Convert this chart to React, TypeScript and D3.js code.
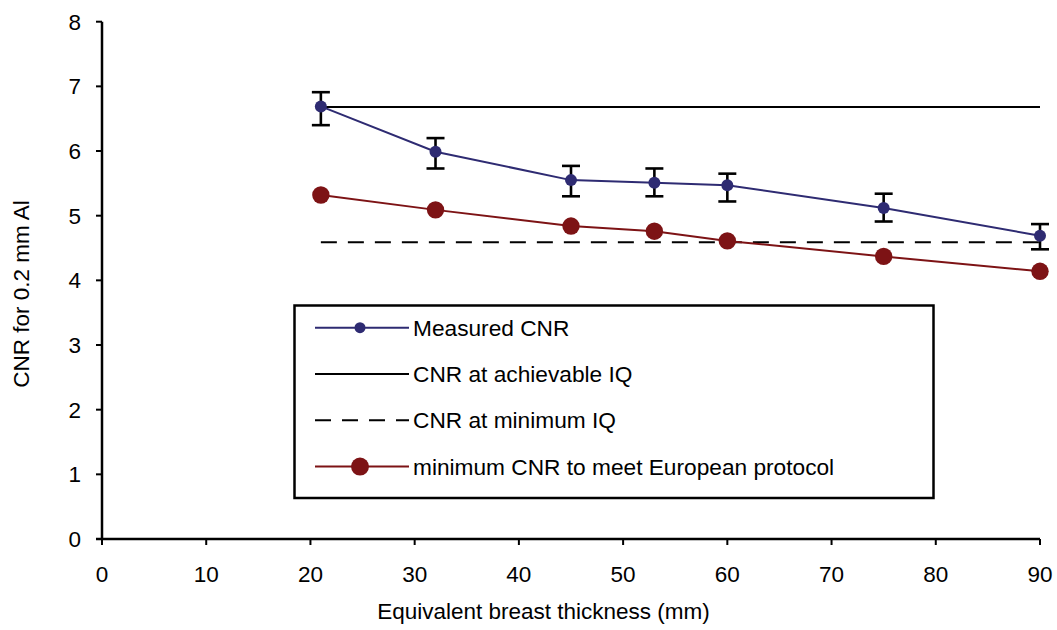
import React from "react";
import * as d3 from "d3";

// Equivalent breast thickness (mm)
const thickness = [21, 32, 45, 53, 60, 75, 90];
// Measured CNR with error bar limits
const measuredCNR = [6.69, 5.99, 5.55, 5.51, 5.47, 5.12, 4.69];
const measuredHigh = [6.91, 6.2, 5.77, 5.73, 5.65, 5.34, 4.87];
const measuredLow = [6.4, 5.73, 5.3, 5.3, 5.22, 4.91, 4.48];
// Minimum CNR to meet European protocol
const minimumCNR = [5.32, 5.09, 4.84, 4.76, 4.61, 4.37, 4.14];
// Reference levels
const achievableIQ = 6.68;
const minimumIQ = 4.59;

const xTicks = [0, 10, 20, 30, 40, 50, 60, 70, 80, 90];
const yTicks = [0, 1, 2, 3, 4, 5, 6, 7, 8];

const legendLabels = [
  "Measured CNR",
  "CNR at achievable IQ",
  "CNR at minimum IQ",
  "minimum CNR to meet European protocol",
];

const BLUE = "#2e2b72";
const RED = "#7d1315";
const FONT = "'Liberation Sans', Arial, sans-serif";

export default function App() {
  const W = 1057;
  const H = 630;
  const left = 102;
  const right = 1040;
  const top = 21.7;
  const bottom = 539;

  const x = d3.scaleLinear().domain([0, 90]).range([left, right]);
  const y = d3.scaleLinear().domain([0, 8]).range([bottom, top]);

  const line = d3
    .line<number>()
    .x((_, i) => x(thickness[i]))
    .y((d) => y(d));

  const xFirst = thickness[0];
  const xLast = thickness[thickness.length - 1];

  // Legend layout
  const lg = { x0: 294.5, y0: 305.5, x1: 933.5, y1: 498 };
  const rowY = (i: number) => 327.7 + i * 46.3;
  const sx0 = 315;
  const sx1 = 409;
  const sxm = 360;
  const tx = 413;

  return (
    <svg
      width={W}
      height={H}
      style={{ position: "absolute", left: 0, top: 0, background: "#fff" }}
      fontFamily={FONT}
    >
      <rect width={W} height={H} fill="#fff" />

      {/* axes */}
      <line x1={left} x2={left} y1={top} y2={bottom} stroke="#000" strokeWidth={2.5} />
      <line x1={left - 6} x2={right} y1={bottom} y2={bottom} stroke="#000" strokeWidth={2.5} />
      {yTicks.map((t) => (
        <g key={"y" + t}>
          <line x1={left - 6} x2={left} y1={y(t)} y2={y(t)} stroke="#000" strokeWidth={2} />
          <text
            x={81}
            y={y(t)}
            dy="0.35em"
            textAnchor="end"
            fontSize={22.5}
            fill="#000"
          >
            {t}
          </text>
        </g>
      ))}
      {xTicks.map((t) => (
        <g key={"x" + t}>
          <line x1={x(t)} x2={x(t)} y1={bottom} y2={bottom + 6} stroke="#000" strokeWidth={2} />
          <text x={x(t)} y={581.5} textAnchor="middle" fontSize={22.5} fill="#000">
            {t}
          </text>
        </g>
      ))}
      <text x={(376 + 711) / 2} y={619} textAnchor="middle" fontSize={22.5} fill="#000">
        Equivalent breast thickness (mm)
      </text>
      <text
        transform={`translate(28.5, 294) rotate(-90)`}
        textAnchor="middle"
        fontSize={22.5}
        fill="#000"
      >
        CNR for 0.2 mm Al
      </text>

      {/* reference levels */}
      <line
        x1={x(xFirst)}
        x2={x(xLast)}
        y1={y(achievableIQ)}
        y2={y(achievableIQ)}
        stroke="#000"
        strokeWidth={2}
      />
      <line
        x1={x(xFirst)}
        x2={x(xLast)}
        y1={y(minimumIQ)}
        y2={y(minimumIQ)}
        stroke="#000"
        strokeWidth={2}
        strokeDasharray="16 11"
      />

      {/* minimum CNR to meet European protocol */}
      <path d={line(minimumCNR) || ""} fill="none" stroke={RED} strokeWidth={2} />
      {minimumCNR.map((v, i) => (
        <circle key={"r" + i} cx={x(thickness[i])} cy={y(v)} r={8.7} fill={RED} />
      ))}

      {/* measured CNR */}
      <path d={line(measuredCNR) || ""} fill="none" stroke={BLUE} strokeWidth={2} />
      {measuredCNR.map((v, i) => {
        const cx = x(thickness[i]);
        return (
          <g key={"b" + i}>
            <line x1={cx} x2={cx} y1={y(measuredHigh[i])} y2={y(measuredLow[i])} stroke="#000" strokeWidth={2.6} />
            <line x1={cx - 9} x2={cx + 9} y1={y(measuredHigh[i])} y2={y(measuredHigh[i])} stroke="#000" strokeWidth={2.6} />
            <line x1={cx - 9} x2={cx + 9} y1={y(measuredLow[i])} y2={y(measuredLow[i])} stroke="#000" strokeWidth={2.6} />
            <circle cx={cx} cy={y(v)} r={6} fill={BLUE} />
          </g>
        );
      })}

      {/* legend */}
      <rect
        x={lg.x0}
        y={lg.y0}
        width={lg.x1 - lg.x0}
        height={lg.y1 - lg.y0}
        fill="#fff"
        stroke="#000"
        strokeWidth={2.5}
      />
      <line x1={sx0} x2={sx1} y1={rowY(0)} y2={rowY(0)} stroke={BLUE} strokeWidth={2} />
      <circle cx={sxm} cy={rowY(0)} r={5.5} fill={BLUE} />
      <line x1={sx0} x2={sx1} y1={rowY(1)} y2={rowY(1)} stroke="#000" strokeWidth={2} />
      <line x1={sx0} x2={sx1} y1={rowY(2)} y2={rowY(2)} stroke="#000" strokeWidth={2} strokeDasharray="16 11" />
      <line x1={sx0} x2={sx1} y1={rowY(3)} y2={rowY(3)} stroke={RED} strokeWidth={2} />
      <circle cx={sxm} cy={rowY(3)} r={9} fill={RED} />
      {legendLabels.map((l, i) => (
        <text key={l} x={tx} y={rowY(i)} dy="0.35em" fontSize={22.7} fill="#000">
          {l}
        </text>
      ))}
    </svg>
  );
}
